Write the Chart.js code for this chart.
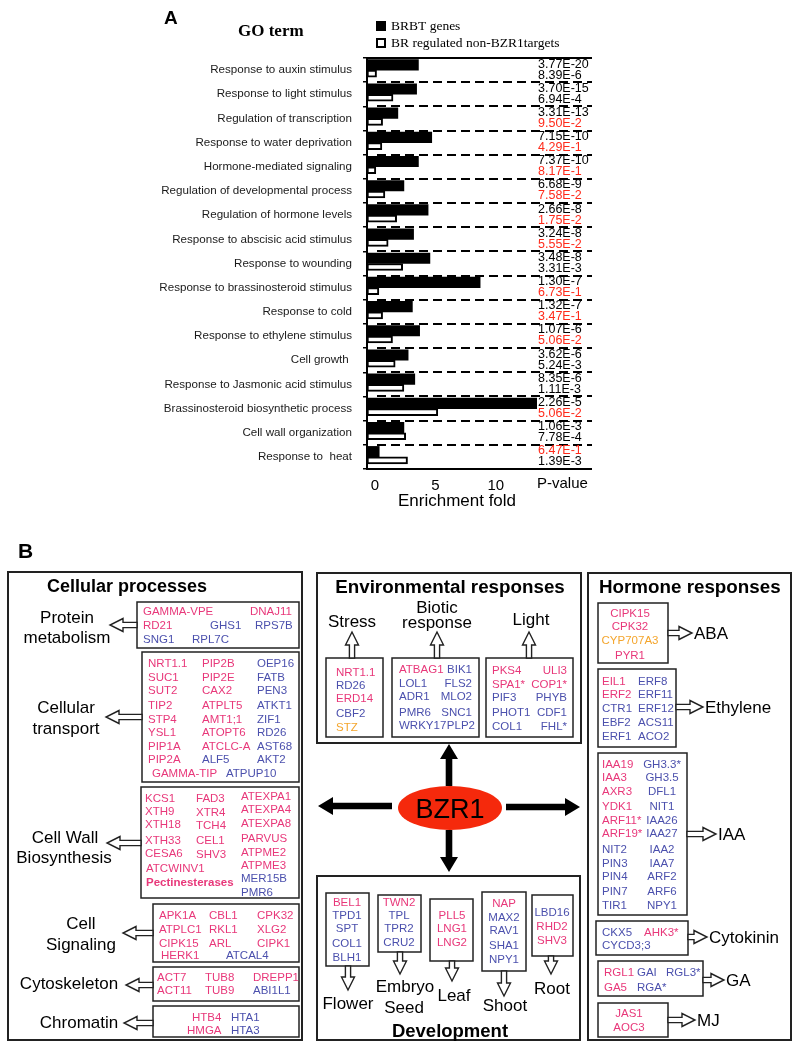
<!DOCTYPE html>
<html>
<head>
<meta charset="utf-8">
<script src="https://cdn.jsdelivr.net/npm/chart.js@4.4.1/dist/chart.umd.min.js"></script>
<style>
  body { margin: 0; background: #fff; }
  #wrap { position: relative; width: 794px; height: 1050px; overflow: hidden; }
  #goChart { position: absolute; left: 0; top: 0; }
  #panelB { position: absolute; left: 0; top: 0; }
</style>
</head>
<body>
<div id="wrap">
  <canvas id="goChart" width="794" height="530"></canvas>
  <svg id="panelB" width="794" height="1050" xmlns="http://www.w3.org/2000/svg"></svg>
</div>
<script>
// ---- panel A data ----
const goTerms = [
  'Response to auxin stimulus', 'Response to light stimulus', 'Regulation of transcription',
  'Response to water deprivation', 'Hormone-mediated signaling', 'Regulation of developmental process',
  'Regulation of hormone levels', 'Response to abscisic acid stimulus', 'Response to wounding',
  'Response to brassinosteroid stimulus', 'Response to cold', 'Response to ethylene stimulus',
  'Cell growth ', 'Response to Jasmonic acid stimulus', 'Brassinosteroid biosynthetic process',
  'Cell wall organization', 'Response to  heat'
];
const brbtFold = [3.6, 3.45, 1.9, 4.7, 3.6, 2.4, 4.4, 3.2, 4.55, 8.7, 3.1, 3.7, 2.75, 3.3, 13.4, 2.4, 0.36];
const nonTargetFold = [0.14, 1.5, 0.64, 0.58, 0.08, 0.83, 1.8, 1.1, 2.3, 0.33, 0.64, 1.46, 1.68, 2.4, 5.2, 2.55, 2.7];
const brbtP = ['3.77E-20', '3.70E-15', '3.31E-13', '7.15E-10', '7.37E-10', '6.68E-9', '2.66E-8', '3.24E-8', '3.48E-8',
  '1.30E-7', '1.32E-7', '1.07E-6', '3.62E-6', '8.35E-6', '2.26E-5', '1.06E-3', '6.47E-1'];
const nonTargetP = ['8.39E-6', '6.94E-4', '9.50E-2', '4.29E-1', '8.17E-1', '7.58E-2', '1.75E-2', '5.55E-2', '3.31E-3',
  '6.73E-1', '3.47E-1', '5.06E-2', '5.24E-3', '1.11E-3', '5.06E-2', '7.78E-4', '1.39E-3'];
const xTicks = [0, 5, 10];
const X_MIN = -0.65, X_MAX = 13.4;

const SANS = 'Liberation Sans, Arial, sans-serif';
const SERIF = 'Liberation Serif, Times New Roman, serif';

const decor = {
  id: 'decor',
  afterDraw(chart) {
    const c = chart.ctx, a = chart.chartArea;
    const rowH = (a.bottom - a.top) / goTerms.length;
    const rightEnd = 592;
    c.save();
    c.strokeStyle = '#000';
    c.lineWidth = 2;
    // frame lines top/bottom run under the p-value column
    c.beginPath();
    c.moveTo(a.left - 1, a.top); c.lineTo(rightEnd, a.top);
    c.moveTo(a.left - 1, a.bottom); c.lineTo(rightEnd, a.bottom);
    c.stroke();
    // dashed separators
    c.setLineDash([9, 5]);
    c.beginPath();
    for (let i = 1; i < goTerms.length; i++) {
      const y = Math.round(a.top + i * rowH);
      c.moveTo(a.left + 10, y); c.lineTo(rightEnd, y);
    }
    c.stroke();
    c.setLineDash([]);
    // p-values
    c.font = '12.5px ' + SANS;
    c.textAlign = 'left';
    c.textBaseline = 'middle';
    goTerms.forEach((t, i) => {
      const mid = a.top + (i + 0.5) * rowH;
      c.fillStyle = parseFloat(brbtP[i]) > 0.01 ? '#ff2a1a' : '#000';
      c.fillText(brbtP[i], a.right + 1, mid - 6);
      c.fillStyle = parseFloat(nonTargetP[i]) > 0.01 ? '#ff2a1a' : '#000';
      c.fillText(nonTargetP[i], a.right + 1, mid + 5);
    });
    c.fillStyle = '#000';
    c.font = '15px ' + SANS;
    c.fillText('P-value', a.right, a.bottom + 15);
    c.font = '17px ' + SANS;
    c.textAlign = 'center';
    c.fillText('Enrichment fold', 457, a.bottom + 32);
    // heading + legend
    c.textAlign = 'left';
    c.font = 'bold 19px ' + SANS;
    c.fillText('A', 164, 19);
    c.font = 'bold 17px ' + SERIF;
    c.fillText('GO term', 238, 32);
    c.font = '13.5px ' + SERIF;
    c.fillRect(376, 21, 10, 10);
    c.fillText('BRBT genes', 391, 26);
    c.lineWidth = 2;
    c.strokeRect(377, 39, 8, 8);
    c.fillText('BR regulated non-BZR1targets', 391, 43);
    c.restore();
  }
};

new Chart(document.getElementById('goChart').getContext('2d'), {
  type: 'bar',
  data: {
    labels: goTerms,
    datasets: [{
      label: 'BRBT genes',
      data: brbtFold,
      backgroundColor: '#000',
      borderWidth: 0,
      barThickness: 10.5,
      base: X_MIN
    }, {
      label: 'BR regulated non-BZR1targets',
      data: nonTargetFold,
      backgroundColor: '#fff',
      borderColor: '#000',
      borderWidth: 2,
      borderSkipped: false,
      barThickness: 7,
      base: X_MIN
    }]
  },
  options: {
    indexAxis: 'y',
    responsive: false,
    animation: false,
    layout: { padding: { top: 58, right: 257, left: 0, bottom: 0 } },
    datasets: { bar: { categoryPercentage: 0.72, barPercentage: 1 } },
    plugins: { legend: { display: false }, tooltip: { enabled: false } },
    scales: {
      x: {
        min: X_MIN,
        max: X_MAX,
        afterBuildTicks: s => { s.ticks = xTicks.map(v => ({ value: v })); },
        afterFit: s => { s.height = 61; },
        grid: { display: false, drawTicks: false },
        border: { display: false },
        ticks: { color: '#000', font: { family: SANS, size: 15 }, padding: 8 }
      },
      y: {
        afterFit: s => { s.width = 367; },
        grid: { drawOnChartArea: false, tickLength: 4, color: '#000', lineWidth: 1.5 },
        border: { display: true, color: '#000', width: 2 },
        ticks: { color: '#1a1a1a', font: { family: SANS, size: 11.6 }, padding: 11 }
      }
    }
  },
  plugins: [decor]
});

// ---- panel B: BZR1 target diagram ----
const PINK = '#e8387a', BLUE = '#4b50ad', ORANGE = '#f4a52c';
const COLORS = { p: PINK, b: BLUE, o: ORANGE };
const NS = 'http://www.w3.org/2000/svg';
const svg = document.getElementById('panelB');

function el(tag, attrs, text) {
  const e = document.createElementNS(NS, tag);
  for (const k in attrs) e.setAttribute(k, attrs[k]);
  if (text != null) e.textContent = text;
  svg.appendChild(e);
  return e;
}
function box(x, y, w, h, sw) {
  el('rect', { x, y, width: w, height: h, fill: 'none', stroke: '#222', 'stroke-width': sw || 1.5 });
}
function txt(x, y, s, size, color, anchor, weight) {
  el('text', {
    x, y, 'font-family': SANS, 'font-size': size, fill: color || '#000',
    'text-anchor': anchor || 'start', 'dominant-baseline': 'central', 'font-weight': weight || 'normal'
  }, s);
}
// gene entries: [x, y, 'NAME', colour key]
function genes(list, anchor) {
  list.forEach(g => txt(g[0], g[1], g[2], 11.5, COLORS[g[3]], anchor, g[4] ? 'bold' : 'normal'));
}
function column(x, ys, names, anchor) {
  names.forEach((n, i) => {
    const [name, col] = n.split('|');
    txt(x, ys[i], name, 11.5, COLORS[col], anchor);
  });
}
function arrow(x1, y1, x2, y2, hl, hw, sw, fill) {
  const len = Math.hypot(x2 - x1, y2 - y1);
  const dx = (x2 - x1) / len, dy = (y2 - y1) / len;
  const nx = -dy, ny = dx;
  const bx = x2 - dx * hl, by = y2 - dy * hl;
  const pts = [
    [x1 + nx * sw, y1 + ny * sw], [bx + nx * sw, by + ny * sw], [bx + nx * hw, by + ny * hw],
    [x2, y2],
    [bx - nx * hw, by - ny * hw], [bx - nx * sw, by - ny * sw], [x1 - nx * sw, y1 - ny * sw]
  ];
  el('polygon', {
    points: pts.map(p => p.join(',')).join(' '),
    fill: fill || '#fff', stroke: fill ? 'none' : '#222', 'stroke-width': 1.4, 'stroke-linejoin': 'miter'
  });
}
const hollow = (x1, y1, x2, y2) => arrow(x1, y1, x2, y2, 13, 6.5, 2.6);
const solid = (x1, y1, x2, y2) => arrow(x1, y1, x2, y2, 15, 9, 3.3, '#000');

txt(18, 550, 'B', 21, '#000', 'start', 'bold');

// Cellular processes
box(8, 572, 294, 468, 2);
txt(47, 586, 'Cellular processes', 18, '#000', 'start', 'bold');

box(137, 602, 162, 46);
genes([[143, 611, 'GAMMA-VPE', 'p'], [250, 611, 'DNAJ11', 'p'], [143, 625, 'RD21', 'p'], [210, 625, 'GHS1', 'b'],
  [255, 625, 'RPS7B', 'b'], [143, 639, 'SNG1', 'b'], [192, 639, 'RPL7C', 'b']]);
hollow(137, 625, 110, 625);
txt(67, 617, 'Protein', 17, '#000', 'middle');
txt(67, 637, 'metabolism', 17, '#000', 'middle');

box(142, 652, 157, 130);
const trRows = [663, 677, 690, 705, 719, 732, 746, 759];
column(148, trRows, ['NRT1.1|p', 'SUC1|p', 'SUT2|p', 'TIP2|p', 'STP4|p', 'YSL1|p', 'PIP1A|p', 'PIP2A|p']);
column(202, trRows, ['PIP2B|p', 'PIP2E|p', 'CAX2|p', 'ATPLT5|p', 'AMT1;1|p', 'ATOPT6|p', 'ATCLC-A|p', 'ALF5|b']);
column(257, trRows, ['OEP16|b', 'FATB|b', 'PEN3|b', 'ATKT1|b', 'ZIF1|b', 'RD26|b', 'AST68|b', 'AKT2|b']);
genes([[152, 773, 'GAMMA-TIP', 'p'], [226, 773, 'ATPUP10', 'b']]);
hollow(142, 717, 106, 717);
txt(66, 707, 'Cellular', 17, '#000', 'middle');
txt(66, 728, 'transport', 17, '#000', 'middle');

box(141, 787, 158, 111);
column(145, [798, 811, 824, 840, 853], ['KCS1|p', 'XTH9|p', 'XTH18|p', 'XTH33|p', 'CESA6|p']);
column(196, [798, 812, 825, 840, 854], ['FAD3|p', 'XTR4|p', 'TCH4|p', 'CEL1|p', 'SHV3|p']);
column(241, [796, 809, 823, 838, 852, 865, 878, 892],
  ['ATEXPA1|p', 'ATEXPA4|p', 'ATEXPA8|p', 'PARVUS|p', 'ATPME2|p', 'ATPME3|p', 'MER15B|b', 'PMR6|b']);
genes([[146, 868, 'ATCWINV1', 'p'], [146, 882, 'Pectinesterases', 'p', true]]);
hollow(141, 843, 107, 843);
txt(65, 837, 'Cell Wall', 17, '#000', 'middle');
txt(64, 857, 'Biosynthesis', 17, '#000', 'middle');

box(153, 904, 146, 58);
column(159, [915, 929, 943], ['APK1A|p', 'ATPLC1|p', 'CIPK15|p']);
column(209, [915, 929, 943], ['CBL1|p', 'RKL1|p', 'ARL|p']);
column(257, [915, 929, 943], ['CPK32|p', 'XLG2|p', 'CIPK1|p']);
genes([[161, 955, 'HERK1', 'p'], [226, 955, 'ATCAL4', 'b']]);
hollow(153, 933, 123, 933);
txt(81, 923, 'Cell', 17, '#000', 'middle');
txt(81, 944, 'Signaling', 17, '#000', 'middle');

box(153, 967, 146, 34);
genes([[157, 977, 'ACT7', 'p'], [205, 977, 'TUB8', 'p'], [253, 977, 'DREPP1', 'p'],
  [157, 990, 'ACT11', 'p'], [205, 990, 'TUB9', 'p'], [253, 990, 'ABI1L1', 'b']]);
hollow(153, 985, 126, 985);
txt(69, 983, 'Cytoskeleton', 17, '#000', 'middle');

box(153, 1006, 146, 31);
genes([[192, 1017, 'HTB4', 'p'], [231, 1017, 'HTA1', 'b'], [187, 1030, 'HMGA', 'p'], [231, 1030, 'HTA3', 'b']]);
hollow(153, 1023, 124, 1023);
txt(79, 1022, 'Chromatin', 17, '#000', 'middle');

// Environmental responses
box(317, 573, 264, 170, 2);
txt(450, 586, 'Environmental responses', 18.8, '#000', 'middle', 'bold');
txt(352, 621, 'Stress', 17, '#000', 'middle');
txt(437, 607, 'Biotic', 17, '#000', 'middle');
txt(437, 622, 'response', 17, '#000', 'middle');
txt(531, 619, 'Light', 17, '#000', 'middle');
box(326, 658, 57, 79);
column(336, [672, 685, 698, 713, 727], ['NRT1.1|p', 'RD26|b', 'ERD14|p', 'CBF2|b', 'STZ|o']);
hollow(352, 658, 352, 632);
box(392, 658, 87, 79);
column(399, [669, 683, 696, 712, 725], ['ATBAG1|p', 'LOL1|b', 'ADR1|b', 'PMR6|b', 'WRKY17|b']);
column(472, [669, 683, 696, 712], ['BIK1|b', 'FLS2|b', 'MLO2|b', 'SNC1|b'], 'end');
txt(475, 725, 'PLP2', 11.5, BLUE, 'end');
hollow(437, 658, 437, 632);
box(486, 658, 87, 79);
column(492, [670, 684, 697, 712, 726], ['PKS4|p', 'SPA1*|p', 'PIF3|b', 'PHOT1|b', 'COL1|b']);
column(567, [670, 684, 697, 712, 726], ['ULI3|p', 'COP1*|p', 'PHYB|b', 'CDF1|b', 'FHL*|b'], 'end');
hollow(529, 658, 529, 632);

// BZR1 hub
el('ellipse', { cx: 450, cy: 808, rx: 52, ry: 22, fill: '#f5290c' });
txt(450, 809, 'BZR1', 27, '#000', 'middle');
solid(449, 786, 449, 744);
solid(449, 830, 449, 872);
solid(392, 806, 318, 806);
solid(506, 807, 580, 807);

// Development
box(317, 876, 263, 164, 2);
txt(450, 1030, 'Development', 18.5, '#000', 'middle', 'bold');
box(326, 893, 43, 73);
column(347, [902, 915, 928, 943, 957], ['BEL1|p', 'TPD1|b', 'SPT|b', 'COL1|b', 'BLH1|b'], 'middle');
hollow(348, 966, 348, 990);
txt(348, 1003, 'Flower', 17, '#000', 'middle');
box(378, 895, 43, 57);
column(399, [902, 915, 928, 942], ['TWN2|p', 'TPL|b', 'TPR2|b', 'CRU2|b'], 'middle');
hollow(400, 952, 400, 974);
txt(405, 986, 'Embryo', 17, '#000', 'middle');
txt(404, 1007, 'Seed', 17, '#000', 'middle');
box(430, 899, 43, 62);
column(452, [915, 928, 942], ['PLL5|p', 'LNG1|p', 'LNG2|p'], 'middle');
hollow(452, 961, 452, 981);
txt(454, 995, 'Leaf', 17, '#000', 'middle');
box(482, 892, 44, 79);
column(504, [903, 917, 930, 945, 959], ['NAP|p', 'MAX2|b', 'RAV1|b', 'SHA1|b', 'NPY1|b'], 'middle');
hollow(504, 971, 504, 996);
txt(505, 1005, 'Shoot', 17, '#000', 'middle');
box(532, 895, 41, 61);
column(552, [912, 926, 940], ['LBD16|b', 'RHD2|p', 'SHV3|p'], 'middle');
hollow(551, 956, 551, 974);
txt(552, 988, 'Root', 17, '#000', 'middle');

// Hormone responses
box(588, 573, 203, 467, 2);
txt(599, 586, 'Hormone responses', 18.8, '#000', 'start', 'bold');
box(598, 603, 70, 60);
column(630, [613, 626, 640, 655], ['CIPK15|p', 'CPK32|p', 'CYP707A3|o', 'PYR1|p'], 'middle');
hollow(668, 633, 692, 633);
txt(694, 633, 'ABA', 17, '#000');
box(598, 669, 78, 78);
column(602, [681, 694, 708, 722, 736], ['EIL1|p', 'ERF2|p', 'CTR1|b', 'EBF2|b', 'ERF1|b']);
column(638, [681, 694, 708, 722, 736], ['ERF8|b', 'ERF11|b', 'ERF12|b', 'ACS11|b', 'ACO2|b']);
hollow(676, 707, 703, 707);
txt(705, 707, 'Ethylene', 17, '#000');
box(598, 753, 89, 162);
const iaaRows = [764, 777, 791, 806, 820, 833, 849, 863, 876, 891, 905];
column(602, iaaRows, ['IAA19|p', 'IAA3|p', 'AXR3|p', 'YDK1|p', 'ARF11*|p', 'ARF19*|p', 'NIT2|b', 'PIN3|b', 'PIN4|b', 'PIN7|b', 'TIR1|b']);
column(662, iaaRows, ['GH3.3*|b', 'GH3.5|b', 'DFL1|b', 'NIT1|b', 'IAA26|b', 'IAA27|b', 'IAA2|b', 'IAA7|b', 'ARF2|b', 'ARF6|b', 'NPY1|b'], 'middle');
hollow(687, 834, 716, 834);
txt(718, 834, 'IAA', 17, '#000');
box(596, 921, 92, 34);
genes([[602, 932, 'CKX5', 'b'], [644, 932, 'AHK3*', 'p'], [602, 945, 'CYCD3;3', 'b']]);
hollow(688, 937, 707, 937);
txt(709, 937, 'Cytokinin', 17, '#000');
box(598, 961, 105, 35);
genes([[604, 972, 'RGL1', 'p'], [637, 972, 'GAI', 'b'], [666, 972, 'RGL3*', 'b'], [604, 987, 'GA5', 'p'], [637, 987, 'RGA*', 'b']]);
hollow(703, 980, 724, 980);
txt(726, 980, 'GA', 17, '#000');
box(598, 1003, 70, 34);
column(629, [1013, 1027], ['JAS1|p', 'AOC3|p'], 'middle');
hollow(668, 1020, 695, 1020);
txt(697, 1020, 'MJ', 17, '#000');
</script>
</body>
</html>
